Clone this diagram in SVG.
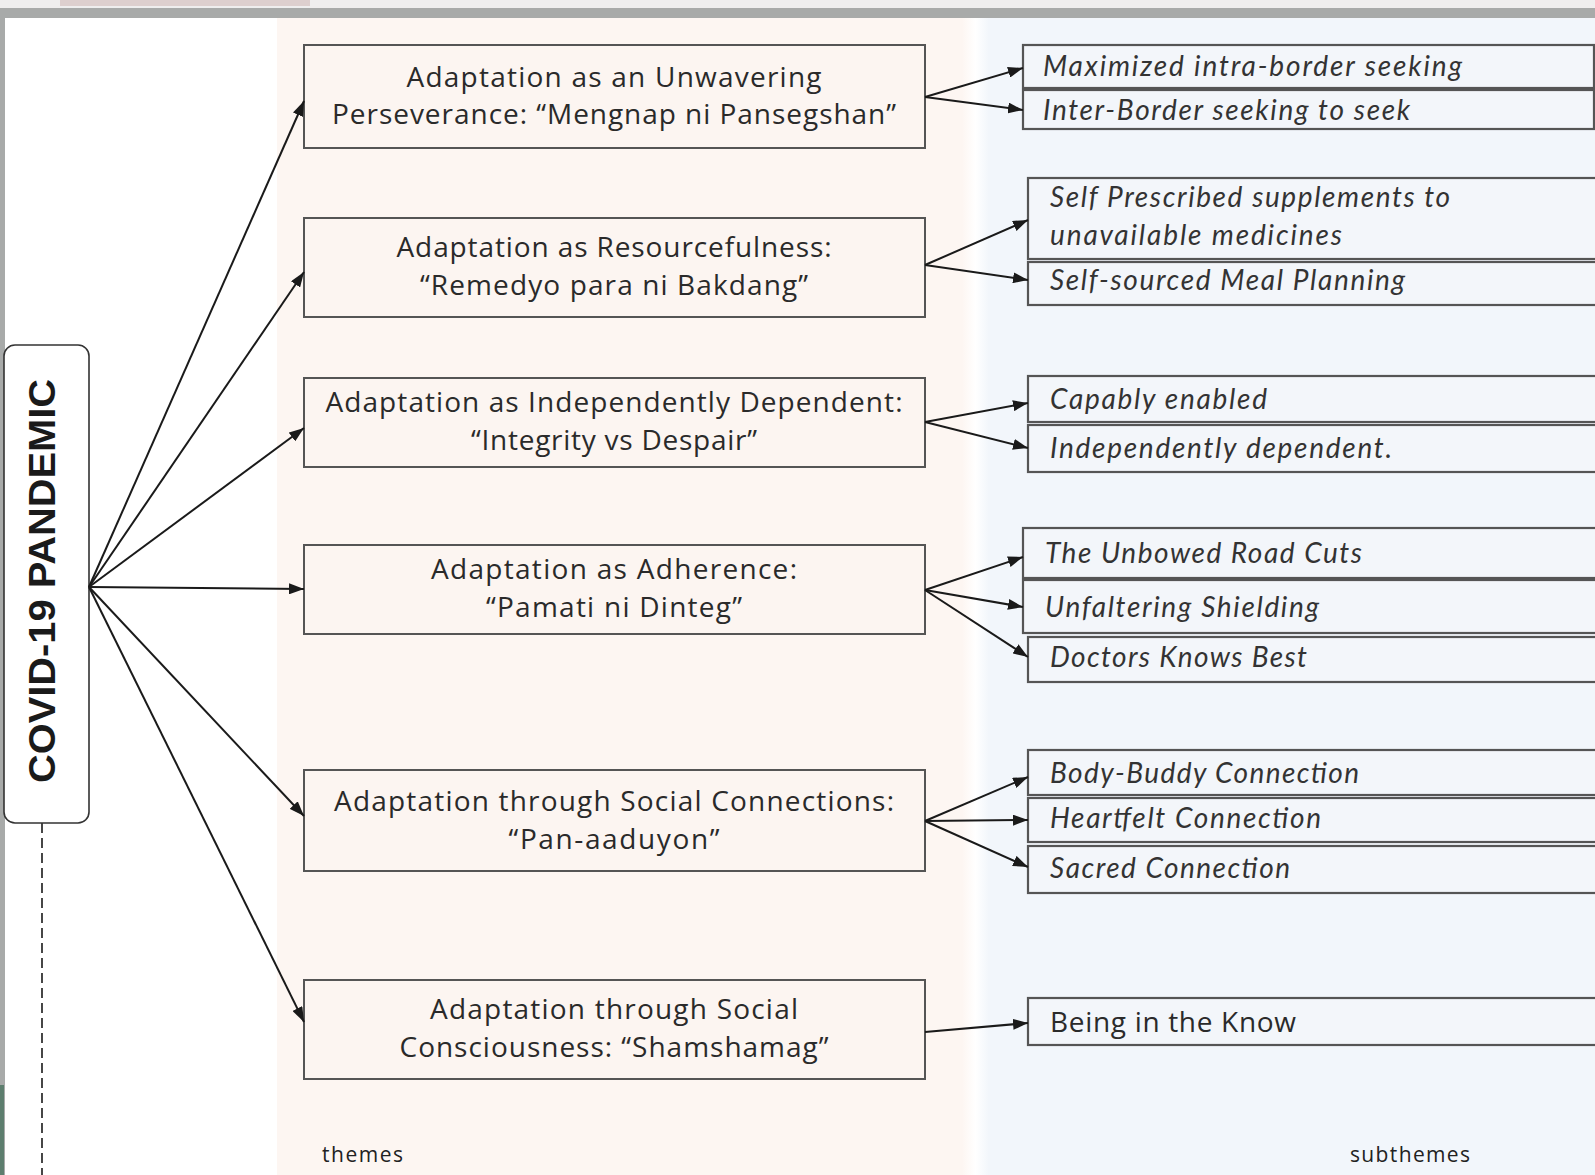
<svg xmlns="http://www.w3.org/2000/svg" width="1595" height="1175" viewBox="0 0 1595 1175">
<defs>
<marker id="ah" markerUnits="userSpaceOnUse" markerWidth="15" markerHeight="11" refX="15" refY="5.5" orient="auto">
<path d="M0,0 L15,5.5 L0,11 z" fill="#1a1a1a"/>
</marker>
<linearGradient id="gap" x1="0" x2="1" y1="0" y2="0">
<stop offset="0" stop-color="#fdf6f2"/>
<stop offset="0.5" stop-color="#ffffff"/>
<stop offset="1" stop-color="#f2f6fb"/>
</linearGradient>
</defs>
<style>
.theme rect{fill:#fcf5f1;stroke:#555;stroke-width:2}
.theme text{font-family:"Open Sans","Liberation Sans",sans-serif;font-size:28px;fill:#2a2a2a;text-anchor:middle}
.sub rect{fill:#f3f6fa;stroke:#555;stroke-width:2.2}
.sub text{font-family:Lato,"Open Sans",sans-serif;font-style:italic;font-size:28px;fill:#333}
.sub text.up{font-family:"Open Sans","Liberation Sans",sans-serif;font-style:normal;font-size:28px;fill:#2a2a2a}
.conn line{stroke:#1a1a1a;stroke-width:2;marker-end:url(#ah)}
.lbl{font-family:"Open Sans","Liberation Sans",sans-serif;font-size:21px;fill:#222}
</style>
<!-- background -->
<rect x="0" y="0" width="1595" height="1175" fill="#ffffff"/>
<rect x="277" y="18" width="686" height="1157" fill="#fdf6f2"/>
<rect x="962" y="18" width="27" height="1157" fill="url(#gap)"/>
<rect x="988" y="18" width="607" height="1157" fill="#f2f6fb"/>
<rect x="0" y="0" width="1595" height="8" fill="#efeeee"/>
<rect x="60" y="0" width="250" height="6" fill="#d5c2c0" opacity="0.7"/>
<rect x="0" y="8" width="1595" height="10" fill="#a8aaa9"/>
<rect x="0" y="8" width="5" height="1167" fill="#a8aaa9"/>
<rect x="0" y="1085" width="4" height="90" fill="#3d6b55" opacity="0.7"/>

<!-- root node -->
<g id="covid">
<rect x="4" y="345" width="85" height="478" rx="11" fill="#ffffff" stroke="#333" stroke-width="1.6"/>
<text transform="translate(55,581) rotate(-90)" text-anchor="middle" font-family="'Liberation Sans',Arial,sans-serif" font-weight="bold" font-size="36" fill="#1a1a1a" textLength="404" lengthAdjust="spacingAndGlyphs">COVID-19 PANDEMIC</text>
</g>
<line x1="42" y1="823" x2="42" y2="1175" stroke="#333" stroke-width="1.8" stroke-dasharray="10,5"/>

<!-- themes -->
<g id="theme1" class="theme">
<rect x="304" y="45" width="621" height="103"/>
<text x="614" y="87" textLength="415">Adaptation as an Unwavering</text>
<text x="614" y="124" textLength="564">Perseverance: “Mengnap ni Pansegshan”</text>
</g>
<g id="theme2" class="theme">
<rect x="304" y="218" width="621" height="99"/>
<text x="614" y="257" textLength="435">Adaptation as Resourcefulness:</text>
<text x="614" y="295" textLength="388">“Remedyo para ni Bakdang”</text>
</g>
<g id="theme3" class="theme">
<rect x="304" y="378" width="621" height="89"/>
<text x="614" y="412" textLength="577">Adaptation as Independently Dependent:</text>
<text x="614" y="450" textLength="286">“Integrity vs Despair”</text>
</g>
<g id="theme4" class="theme">
<rect x="304" y="545" width="621" height="89"/>
<text x="614" y="579" textLength="366">Adaptation as Adherence:</text>
<text x="614" y="617" textLength="256">“Pamati ni Dinteg”</text>
</g>
<g id="theme5" class="theme">
<rect x="304" y="770" width="621" height="101"/>
<text x="614" y="811" textLength="560">Adaptation through Social Connections:</text>
<text x="614" y="849" textLength="211">“Pan-aaduyon”</text>
</g>
<g id="theme6" class="theme">
<rect x="304" y="980" width="621" height="99"/>
<text x="614" y="1019" textLength="368">Adaptation through Social</text>
<text x="614" y="1057" textLength="429">Consciousness: “Shamshamag”</text>
</g>

<!-- subthemes -->
<g id="sub-a1" class="sub">
<rect x="1023" y="45" width="571" height="43"/>
<text x="1043" y="76" textLength="419">Maximized intra-border seeking</text>
</g>
<g id="sub-a2" class="sub">
<rect x="1023" y="90" width="571" height="39"/>
<text x="1043" y="120" textLength="367">Inter-Border seeking to seek</text>
</g>
<g id="sub-b1" class="sub">
<rect x="1028" y="178" width="580" height="81"/>
<text x="1050" y="207" textLength="400">Self Prescribed supplements to</text>
<text x="1050" y="245" textLength="292">unavailable medicines</text>
</g>
<g id="sub-b2" class="sub">
<rect x="1028" y="262" width="580" height="43"/>
<text x="1050" y="290" textLength="355">Self-sourced Meal Planning</text>
</g>
<g id="sub-c1" class="sub">
<rect x="1028" y="376" width="580" height="46"/>
<text x="1050" y="409" textLength="217">Capably enabled</text>
</g>
<g id="sub-c2" class="sub">
<rect x="1028" y="425" width="580" height="47"/>
<text x="1050" y="458" textLength="342">Independently dependent.</text>
</g>
<g id="sub-d1" class="sub">
<rect x="1023" y="528" width="585" height="50"/>
<text x="1045" y="563" textLength="317">The Unbowed Road Cuts</text>
</g>
<g id="sub-d2" class="sub">
<rect x="1023" y="580" width="585" height="53"/>
<text x="1045" y="617" textLength="274">Unfaltering Shielding</text>
</g>
<g id="sub-d3" class="sub">
<rect x="1028" y="637" width="580" height="45"/>
<text x="1050" y="667" textLength="257">Doctors Knows Best</text>
</g>
<g id="sub-e1" class="sub">
<rect x="1028" y="750" width="580" height="45"/>
<text x="1050" y="783" textLength="309">Body-Buddy Connection</text>
</g>
<g id="sub-e2" class="sub">
<rect x="1028" y="798" width="580" height="44"/>
<text x="1050" y="828" textLength="271">Heartfelt Connection</text>
</g>
<g id="sub-e3" class="sub">
<rect x="1028" y="846" width="580" height="47"/>
<text x="1050" y="878" textLength="240">Sacred Connection</text>
</g>
<g id="sub-f1" class="sub">
<rect x="1028" y="998" width="580" height="47"/>
<text class="up" x="1050" y="1032" textLength="246">Being in the Know</text>
</g>

<!-- connectors -->
<g id="connectors" class="conn">
<line x1="89" y1="587" x2="304" y2="101"/>
<line x1="89" y1="587" x2="304" y2="272"/>
<line x1="89" y1="587" x2="304" y2="428"/>
<line x1="89" y1="587" x2="304" y2="589"/>
<line x1="89" y1="587" x2="304" y2="816"/>
<line x1="89" y1="587" x2="304" y2="1022"/>
<line x1="925" y1="97" x2="1023" y2="68"/>
<line x1="925" y1="97" x2="1023" y2="110"/>
<line x1="925" y1="265" x2="1028" y2="220"/>
<line x1="925" y1="265" x2="1028" y2="280"/>
<line x1="925" y1="422" x2="1028" y2="403"/>
<line x1="925" y1="422" x2="1028" y2="448"/>
<line x1="925" y1="590" x2="1023" y2="557"/>
<line x1="925" y1="590" x2="1023" y2="607"/>
<line x1="925" y1="590" x2="1028" y2="657"/>
<line x1="925" y1="821" x2="1028" y2="777"/>
<line x1="925" y1="821" x2="1028" y2="820"/>
<line x1="925" y1="821" x2="1028" y2="867"/>
<line x1="925" y1="1032" x2="1028" y2="1023"/>
</g>

<text class="lbl" x="322" y="1162" textLength="81">themes</text>
<text class="lbl" x="1350" y="1162" textLength="120">subthemes</text>
</svg>
